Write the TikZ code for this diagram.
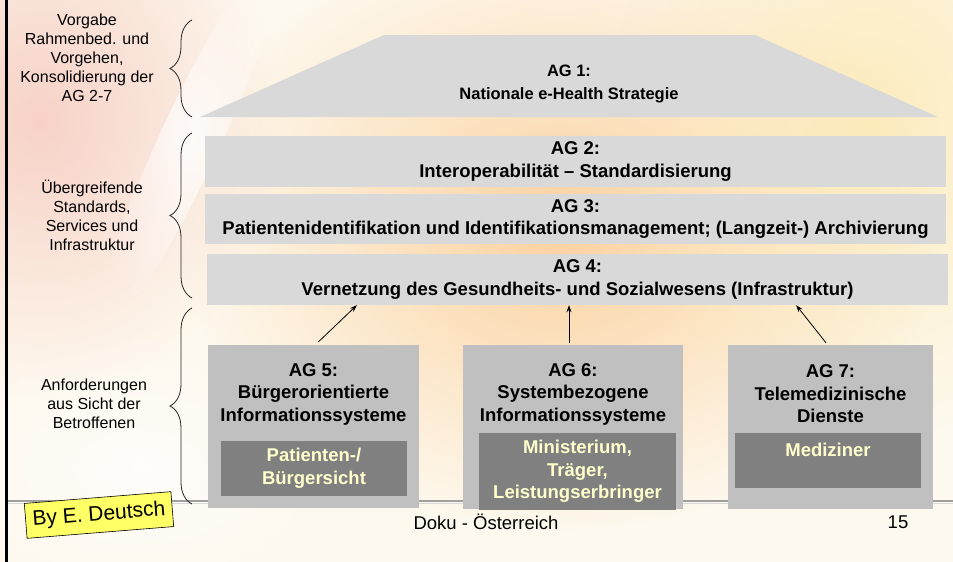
\documentclass[tikz,border=0pt]{standalone}
\usepackage{fontspec}
\setmainfont{Liberation Sans}
\usetikzlibrary{arrows.meta,decorations.pathreplacing,fadings}

\tikzfading[name=softglow, inner color=transparent!0, outer color=transparent!100]

\definecolor{bandgray}{RGB}{217,217,217}
\definecolor{boxgray}{RGB}{192,192,192}
\definecolor{innergray}{RGB}{128,128,128}
\definecolor{paleyellow}{RGB}{255,255,204}
\definecolor{slidebase}{RGB}{254,249,238}
\definecolor{glowpink}{RGB}{240,170,160}
\definecolor{glowpeach}{RGB}{250,200,140}
\definecolor{glowcream}{RGB}{252,232,176}
\definecolor{notefill}{RGB}{255,255,102}

\newcommand\rooffont{\fontsize{16.5}{23}\selectfont\bfseries}
\newcommand\boxfont{\fontsize{18.5}{22.5}\selectfont\bfseries}
\newcommand\sidefont{\fontsize{16}{19}\selectfont}

\tikzset{
  band/.style={fill=bandgray, inner sep=0pt, align=center, font=\boxfont},
  groupbox/.style={fill=boxgray, inner sep=0pt},
  rolebox/.style={fill=innergray, inner sep=0pt, align=center, font=\boxfont, text=paleyellow},
  grouptitle/.style={align=center, font=\boxfont},
  sidenote/.style={align=center, font=\sidefont},
  bracket/.style={decorate, decoration={brace, amplitude=22pt}, line width=0.8pt, black!85},
  feed/.style={-{Stealth[length=7pt,width=5pt]}, line width=0.8pt},
}

\begin{document}
\begin{tikzpicture}[x=1pt,y=-1pt]
\useasboundingbox (0,0) rectangle (953,562);

% slide background with soft colour glows
\fill[slidebase] (0,0) rectangle (953,562);
\fill[glowpeach, path fading=softglow, fill opacity=0.8] (560,230) ellipse [x radius=380, y radius=300];
\fill[glowcream, path fading=softglow, fill opacity=0.8] (870,120) ellipse [x radius=260, y radius=320];
\fill[glowpink, path fading=softglow, fill opacity=0.5] (40,120) ellipse [x radius=240, y radius=280];
\fill[white, path fading=softglow, fill opacity=0.8, rotate around={-25:(190,140)}] (190,140) ellipse [x radius=30, y radius=210];
\fill[white, path fading=softglow, fill opacity=0.7] (140,470) ellipse [x radius=220, y radius=140];

% left border and footer rule
\draw[line width=3pt] (6.5,0) -- (6.5,562);
\draw[gray!75, line width=1.5pt] (8,501) -- (953,501);
\draw[gray!30, line width=1pt] (8,503) -- (953,503);

% AG 1: roof
\fill[bandgray] (200,117) -- (384,35) -- (755,35) -- (938,117) -- cycle;
\node[align=center, font=\rooffont] (ag1) at (569,83.5) {AG 1:\\Nationale e-Health Strategie};

% AG 2-4: cross-cutting bands
\node[band, minimum width=741pt, minimum height=51pt] (ag2) at (575.5,161.5)
  {AG 2:\\Interoperabilität – Standardisierung};
\node[band, minimum width=741pt, minimum height=50pt] (ag3) at (575.5,219)
  {AG 3:\\Patientenidentifikation und Identifikationsmanagement; (Langzeit-) Archivierung};
\node[band, minimum width=741pt, minimum height=51pt] (ag4) at (577.5,279.5)
  {AG 4:\\Vernetzung des Gesundheits- und Sozialwesens (Infrastruktur)};

% AG 5-7: pillars
\node[groupbox, minimum width=211pt, minimum height=163pt] (ag5) at (313.5,426.5) {};
\node[grouptitle] (ag5t) at (313.5,394) {AG 5:\\Bürgerorientierte\\Informationssysteme};
\node[rolebox, minimum width=186pt, minimum height=55pt] (ag5i) at (314,468.5) {Patienten-/\\Bürgersicht};

\node[groupbox, minimum width=220pt, minimum height=164pt] (ag6) at (573,427) {};
\node[grouptitle] (ag6t) at (573,394) {AG 6:\\Systembezogene\\Informationssysteme};
\node[rolebox, minimum width=197pt, minimum height=77pt] (ag6i) at (577.5,471.5) {Ministerium,\\Träger,\\Leistungserbringer};

\node[groupbox, minimum width=205pt, minimum height=164pt] (ag7) at (830.5,427) {};
\node[grouptitle] (ag7t) at (830.5,394) {AG 7:\\Telemedizinische\\Dienste};
\node[rolebox, minimum width=186pt, minimum height=55pt] (ag7i) at (828,460.5) {};
\node[grouptitle, text=paleyellow] (ag7l) at ([yshift=-17pt]ag7i.north) {Mediziner};

% pillars feed into the infrastructure band
\draw[feed] ([shift={(5,-3)}]ag5.north) -- ([xshift=150pt]ag4.south west);
\draw[feed] ([shift={(-4,-2)}]ag6.north) -- ([xshift=-4pt]ag6.north |- ag4.south);
\draw[feed] ([shift={(-4.5,-2)}]ag7.north) -- ([xshift=-152pt]ag4.south east);

% side annotations with braces
\node[sidenote] (n1) at (87,58) {Vorgabe\\Rahmenbed. und\\Vorgehen,\\Konsolidierung der\\AG 2-7};
\node[sidenote] (n2) at (92,215.5) {Übergreifende\\Standards,\\Services und\\Infrastruktur};
\node[sidenote] (n3) at (94,404) {Anforderungen\\aus Sicht der\\Betroffenen};
\draw[bracket] (192,117) -- (192,20);
\draw[bracket] (192,298) -- (192,133);
\draw[bracket] (192,504) -- (192,308);

% footer
\node[font=\fontsize{18.5}{20}\selectfont] (doku) at (486,522) {Doku - Österreich};
\node[font=\fontsize{18.5}{20}\selectfont] (page) at (898,522) {15};
\node[draw, line width=0.6pt, fill=notefill, rotate=4.6, font=\fontsize{21}{24}\selectfont,
      inner xsep=7pt, minimum height=35pt] (author) at (99,515) {By E. Deutsch};
\end{tikzpicture}
\end{document}
